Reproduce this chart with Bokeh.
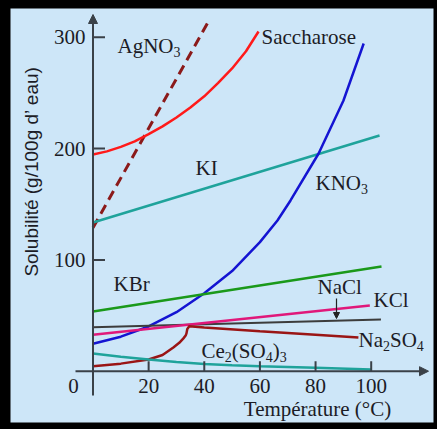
from bokeh.plotting import figure
from bokeh.models import Range1d, Arrow, NormalHead, GlobalInlineStyleSheet
from bokeh.core.properties import value
from bokeh.embed import file_html
from bokeh.resources import INLINE
import math

# ---------------- data ----------------
agno3_T = [0, 41.9]
agno3_S = [128.9, 316]

sacch_T = [0, 5, 10, 15, 20, 25, 30, 35, 40, 45, 50, 55, 59.5]
sacch_S = [194.7, 197.5, 201.5, 206.5, 213, 220, 228, 237, 247, 259, 272, 287.5, 305.2]

ki_T = [0, 103]
ki_S = [133.6, 211.8]

kno3_T = [0, 10, 20, 30, 40, 50, 60, 66.3, 71, 81.1, 90, 97.3]
kno3_S = [24.6, 31, 40.2, 53, 70, 90, 116, 135.4, 153.4, 195.6, 243, 294.4]

kbr_T = [0, 103.7]
kbr_S = [53.6, 94]

kcl_T = [0, 99.5]
kcl_S = [32.7, 59]

nacl_T = [0, 103.5]
nacl_S = [39.5, 46.5]

na2so4_T = [0, 10, 20, 25, 29, 31, 32.5, 33.3, 33.6, 33.9, 34.6, 40, 60, 80, 95.4]
na2so4_S = [4.5, 6.8, 10.5, 14.5, 21.6, 25.5, 29.5, 32, 34, 38, 40.4, 39.3, 36, 32.8, 30.2]

ce_T = [0, 10, 20, 30, 40, 50, 60, 80, 100]
ce_S = [15.9, 13, 10.5, 8.3, 6.5, 5.3, 4.4, 3, 1.5]

x_ticks = [20, 40, 60, 80, 100]
y_ticks = [100, 200, 300]
x_title = "Température (°C)"
y_title = "Solubilité (g/100g d’ eau)"

# ---------------- figure ----------------
PXX = 2.782   # px per °C
PXY = 1.113   # px per g
X0, Y0 = 92.5, 370.7  # page px of origin
W, H = 437, 429
L, T, R, B = 10, 8, 4, 7   # black frame widths
x_start = (L - X0) / PXX
x_end = (W - R - X0) / PXX
y_top = (Y0 - T) / PXY
y_bot = (Y0 - (H - B)) / PXY

BG = "#cde6f8"
AX = "#3a4148"
TXT = "#1c1c26"
SERIF = "Liberation Serif"

p = figure(width=W, height=H, output_backend="svg", toolbar_location=None,
           x_range=Range1d(x_start, x_end), y_range=Range1d(y_bot, y_top),
           x_axis_type=None, y_axis_type=None,
           min_border_left=L, min_border_right=R, min_border_top=T, min_border_bottom=B,
           background_fill_color=BG, border_fill_color="black")
p.outline_line_color = None
p.stylesheets = [GlobalInlineStyleSheet(css="html, body { background-color: #000; overflow: hidden; }")]

# ---------------- curves ----------------
p.line(agno3_T, agno3_S, line_color="#8b1a1a", line_width=3, line_dash="10 6")
p.line(sacch_T, sacch_S, line_color="#ff1a1a", line_width=2.5)
p.line(ki_T, ki_S, line_color="#1fa39b", line_width=2.5)
p.line(kno3_T, kno3_S, line_color="#1414d2", line_width=2.5)
p.line(kbr_T, kbr_S, line_color="#1a991a", line_width=2.5)
p.line(nacl_T, nacl_S, line_color="#3c3c3c", line_width=2)
p.line(kcl_T, kcl_S, line_color="#e0187a", line_width=2.5)
p.line(na2so4_T, na2so4_S, line_color="#9a1515", line_width=2.5)
p.line(ce_T, ce_S, line_color="#1fa39b", line_width=2.5)

# ---------------- axes (drawn by hand) ----------------
p.add_layout(Arrow(end=NormalHead(size=9, fill_color=AX, line_color=AX),
                   x_start=(75 - X0) / PXX, y_start=0, x_end=(428 - X0) / PXX, y_end=0,
                   line_color=AX, line_width=2))
p.add_layout(Arrow(end=NormalHead(size=9, fill_color=AX, line_color=AX),
                   x_start=0, y_start=(Y0 - 395) / PXY, x_end=0, y_end=(Y0 - 14) / PXY,
                   line_color=AX, line_width=2))

p.segment(x0=[0] * len(y_ticks), y0=y_ticks, x1=[12 / PXX] * len(y_ticks), y1=y_ticks,
          line_color=AX, line_width=2)
p.segment(x0=x_ticks, y0=[0] * len(x_ticks), x1=x_ticks, y1=[10 / PXY] * len(x_ticks),
          line_color=AX, line_width=2)

p.text(x=[(85 - X0) / PXX] * len(y_ticks), y=y_ticks, text=[str(v) for v in y_ticks],
       text_align="right", text_baseline="middle", text_font=value(SERIF),
       text_font_size="21px", text_color=TXT)
p.text(x=x_ticks, y=[(Y0 - 385) / PXY] * len(x_ticks), text=[str(v) for v in x_ticks],
       text_align="center", text_baseline="middle", text_font=value(SERIF),
       text_font_size="21px", text_color=TXT)
p.text(x=[(73 - X0) / PXX], y=[(Y0 - 385) / PXY], text=["0"],
       text_align="center", text_baseline="middle", text_font=value(SERIF),
       text_font_size="21px", text_color=TXT)

p.text(x=[(317 - X0) / PXX], y=[(Y0 - 408) / PXY], text=[x_title],
       text_align="center", text_baseline="middle", text_font=value(SERIF),
       text_font_size="21px", text_color=TXT)
p.text(x=[(31 - X0) / PXX], y=[(Y0 - 171) / PXY], text=[y_title], angle=math.pi / 2,
       text_align="center", text_baseline="middle", text_font=value("Liberation Sans"),
       text_font_size="19px", text_color=TXT)

# ---------------- curve labels ----------------
TW = {"A": 722, "g": 500, "N": 722, "O": 722, "S": 556, "a": 444, "c": 444, "h": 500,
      "r": 333, "o": 500, "s": 389, "e": 444, "K": 722, "I": 333, "B": 667, "l": 278,
      "C": 667, "(": 333, ")": 333, " ": 250}
for d in "0123456789":
    TW[d] = 500

FS, SS = 21, 14


def formula(tx, sy, parts):
    off = 0.0
    for txt, sub in parts:
        size = SS if sub else FS
        p.text(x=[tx], y=[sy], text=[txt], x_offset=off, y_offset=(6 if sub else 0),
               text_align="left", text_baseline="middle", text_font=value(SERIF),
               text_font_size=f"{size}px", text_color=TXT)
        off += sum(TW.get(c, 500) for c in txt) / 1000 * size


labels = [
    ((117 - X0) / PXX, (Y0 - 45) / PXY, [("AgNO", False), ("3", True)]),
    ((261 - X0) / PXX, (Y0 - 36) / PXY, [("Saccharose", False)]),
    ((195 - X0) / PXX, (Y0 - 167) / PXY, [("KI", False)]),
    ((315 - X0) / PXX, (Y0 - 182.5) / PXY, [("KNO", False), ("3", True)]),
    ((113 - X0) / PXX, (Y0 - 283.5) / PXY, [("KBr", False)]),
    ((317 - X0) / PXX, (Y0 - 286.5) / PXY, [("NaCl", False)]),
    ((373 - X0) / PXX, (Y0 - 299.5) / PXY, [("KCl", False)]),
    ((358 - X0) / PXX, (Y0 - 339.5) / PXY, [("Na", False), ("2", True), ("SO", False), ("4", True)]),
    ((201 - X0) / PXX, (Y0 - 350.5) / PXY, [("Ce", False), ("2", True), ("(SO", False), ("4", True),
                                          (")", False), ("3", True)]),
]
for tx, sy, parts in labels:
    formula(tx, sy, parts)

# NaCl pointer
p.add_layout(Arrow(end=NormalHead(size=6, fill_color="#222222", line_color="#222222"),
                   x_start=(336 - X0) / PXX, y_start=(Y0 - 298) / PXY,
                   x_end=(336 - X0) / PXX, y_end=(Y0 - 318) / PXY,
                   line_color="#222222", line_width=1.2))

open("out.html", "w").write(file_html(p, INLINE))
